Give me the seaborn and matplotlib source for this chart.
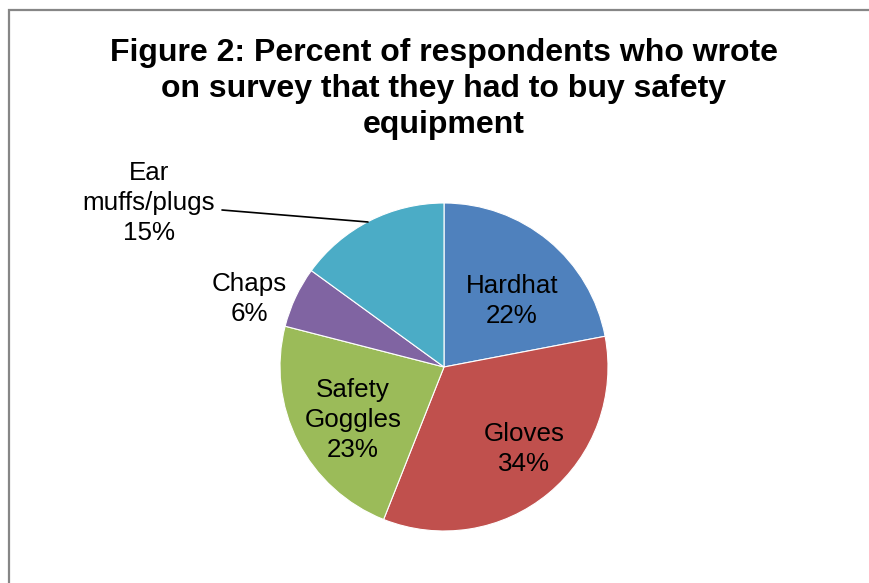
import matplotlib
matplotlib.use("Agg")
import matplotlib.pyplot as plt
import seaborn as sns
from matplotlib.patches import Rectangle

sns.set_theme(style="white")
plt.rcParams['font.family'] = ['Liberation Sans', 'DejaVu Sans']

categories = ["Hardhat", "Gloves", "Safety\nGoggles", "Chaps", "Ear\nmuffs/plugs"]
values = [22, 34, 23, 6, 15]
colors = ["#4F81BD", "#C0504D", "#9BBB59", "#8064A2", "#4BACC6"]
label_pos = [(512, 301), (524, 449), (353, 420), (249, 299), (149, 203)]
title = "Figure 2: Percent of respondents who wrote\non survey that they had to buy safety\nequipment"

W, H = 870, 583
fig = plt.figure(figsize=(8.7, 5.83), dpi=100)
ax = fig.add_axes([0, 0, 1, 1])

ax.pie(values, colors=sns.color_palette(colors), startangle=90, counterclock=False,
       center=(444, H - 367), radius=164, frame=True,
       wedgeprops=dict(edgecolor="white", linewidth=0.8))
ax.set_xlim(0, W)
ax.set_ylim(0, H)
ax.set_aspect("equal")
ax.axis("off")

for cat, v, (x, y) in zip(categories, values, label_pos):
    ax.text(x, H - y, f"{cat}\n{v}%", ha="center", va="center", fontsize=18.7,
            color="black", linespacing=1.33)

# leader line for Ear muffs/plugs
ax.plot([222, 368], [H - 210, H - 222], color="black", lw=1.2)

ax.text(444, H - 89, title, ha="center", va="center", fontsize=23, fontweight="bold",
        color="black", linespacing=1.27)

# chart border
ax.add_patch(Rectangle((9, -20), W + 20, H - 10 + 20, fill=False, edgecolor="#868686",
                       lw=1.6, clip_on=False))

fig.savefig("out.png", dpi=100)
